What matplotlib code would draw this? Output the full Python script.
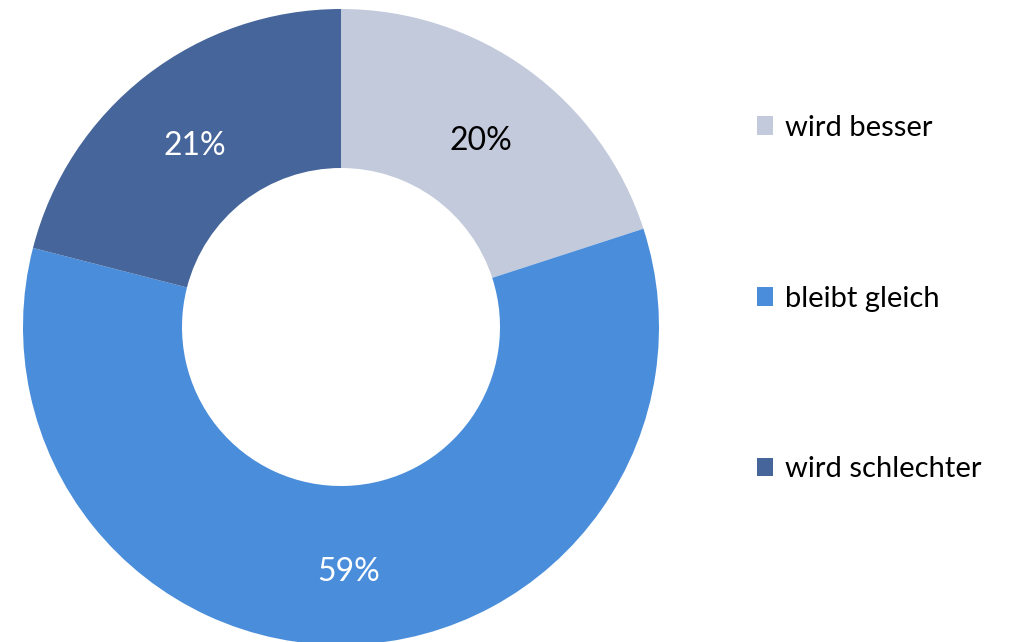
import matplotlib.pyplot as plt
from matplotlib.patches import Patch

labels = ["wird besser", "bleibt gleich", "wird schlechter"]
values = [20, 59, 21]
colors = ["#C2CADB", "#4A8EDB", "#46659A"]
text_colors = ["black", "white", "white"]

plt.rcParams["font.family"] = ["Lato", "DejaVu Sans"]

fig = plt.figure(figsize=(10.10, 6.42), dpi=100)
ax = fig.add_axes([23 / 1010, (642 - 645) / 642, 636 / 1010, 636 / 642])

wedges, texts, autotexts = ax.pie(
    values, colors=colors, startangle=90, counterclock=False,
    autopct=lambda p: f"{round(p)}%", pctdistance=0.75, radius=1.0,
    wedgeprops=dict(width=0.5, linewidth=0),
)
for t, c in zip(autotexts, text_colors):
    t.set_color(c)
    t.set_fontsize(23)
    # nudge labels slightly downward
    x, y = t.get_position()
    t.set_position((x, y - 0.022))
ax.set_xlim(-1, 1)
ax.set_ylim(-1, 1)
ax.set_aspect("equal")

handles = [Patch(facecolor=c, edgecolor="none") for c in colors]
fig.legend(handles, labels, loc="center left", bbox_to_anchor=(731 / 1010, 0.5350),
           frameon=False, fontsize=21, labelspacing=4.97,
           handlelength=0.55, handleheight=0.6, handletextpad=0.4)

fig.savefig("out.png", dpi=100)
